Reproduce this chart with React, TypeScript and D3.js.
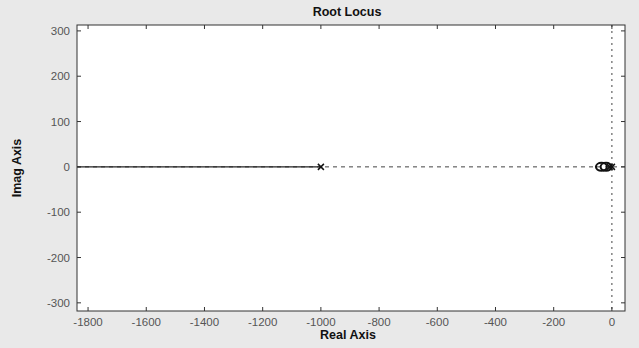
import { useMemo } from "react";
import { scaleLinear, line } from "d3";

const WIDTH = 639;
const HEIGHT = 348;
const MARGIN = { top: 25, right: 14, bottom: 37, left: 77 };

const xDomain = [-1838, 45];
const yDomain = [-318, 313];
const xTicks = [-1800, -1600, -1400, -1200, -1000, -800, -600, -400, -200, 0];
const yTicks = [-300, -200, -100, 0, 100, 200, 300];

// locus branch running from the pole at -1000 off to the left edge
const branchRe = [-1000, -1838];
const branchIm = [0, 0];
const poleRe = [-1000, -8, 0];
const poleIm = [0, 0, 0];
const zeroRe = [-36, -20];
const zeroIm = [0, 0];

const FONT = "'Liberation Sans', Arial, sans-serif";

export default function App() {
  const x = useMemo(() => scaleLinear().domain(xDomain).range([MARGIN.left, WIDTH - MARGIN.right]), []);
  const y = useMemo(() => scaleLinear().domain(yDomain).range([HEIGHT - MARGIN.bottom, MARGIN.top]), []);
  const x0 = MARGIN.left;
  const x1 = WIDTH - MARGIN.right;
  const y0 = MARGIN.top;
  const y1 = HEIGHT - MARGIN.bottom;

  const branchPath = line<number>()
    .x((d) => x(d))
    .y((_, i) => y(branchIm[i]))(branchRe);

  return (
    <svg
      width={WIDTH}
      height={HEIGHT}
      style={{ position: "absolute", left: 0, top: 0, background: "#e9e9e9" }}
      fontFamily={FONT}
    >
      <rect x={x0} y={y0} width={x1 - x0} height={y1 - y0} fill="#fff" />

      {/* reference lines through the origin */}
      <line x1={x0} x2={x1} y1={y(0)} y2={y(0)} stroke="#444" strokeDasharray="4,4" strokeWidth={1} />
      <line x1={x(0)} x2={x(0)} y1={y0} y2={y1} stroke="#444" strokeDasharray="2,4" strokeWidth={1} />

      {branchPath && <path d={branchPath} fill="none" stroke="#222" strokeWidth={1.4} />}

      {zeroRe.map((re, i) => (
        <ellipse key={`z${i}`} cx={x(re)} cy={y(zeroIm[i])} rx={5.5} ry={4} fill="none" stroke="#111" strokeWidth={2} />
      ))}
      {poleRe.map((re, i) => (
        <g key={`p${i}`} stroke="#111" strokeWidth={1.5}>
          <line x1={x(re) - 3} x2={x(re) + 3} y1={y(poleIm[i]) - 3} y2={y(poleIm[i]) + 3} />
          <line x1={x(re) - 3} x2={x(re) + 3} y1={y(poleIm[i]) + 3} y2={y(poleIm[i]) - 3} />
        </g>
      ))}

      <rect x={x0} y={y0} width={x1 - x0} height={y1 - y0} fill="none" stroke="#333" strokeWidth={1} />

      {xTicks.map((t) => (
        <g key={`x${t}`}>
          <line x1={x(t)} x2={x(t)} y1={y1} y2={y1 - 4} stroke="#333" />
          <line x1={x(t)} x2={x(t)} y1={y0} y2={y0 + 4} stroke="#333" />
          <text x={x(t)} y={y1 + 15} textAnchor="middle" fontSize={11.5} fill="#555">
            {t}
          </text>
        </g>
      ))}
      {yTicks.map((t) => (
        <g key={`y${t}`}>
          <line x1={x0} x2={x0 + 4} y1={y(t)} y2={y(t)} stroke="#333" />
          <line x1={x1} x2={x1 - 4} y1={y(t)} y2={y(t)} stroke="#333" />
          <text x={x0 - 7} y={y(t) + 4} textAnchor="end" fontSize={11.5} fill="#555">
            {t}
          </text>
        </g>
      ))}

      <text x={347} y={16} textAnchor="middle" fontSize={12.5} fontWeight="bold" fill="#111">
        Root Locus
      </text>
      <text x={348} y={339} textAnchor="middle" fontSize={12.5} fontWeight="bold" fill="#111">
        Real Axis
      </text>
      <text
        transform={`translate(21, ${(y0 + y1) / 2}) rotate(-90)`}
        textAnchor="middle"
        fontSize={12.5}
        fontWeight="bold"
        fill="#111"
      >
        Imag Axis
      </text>
    </svg>
  );
}
